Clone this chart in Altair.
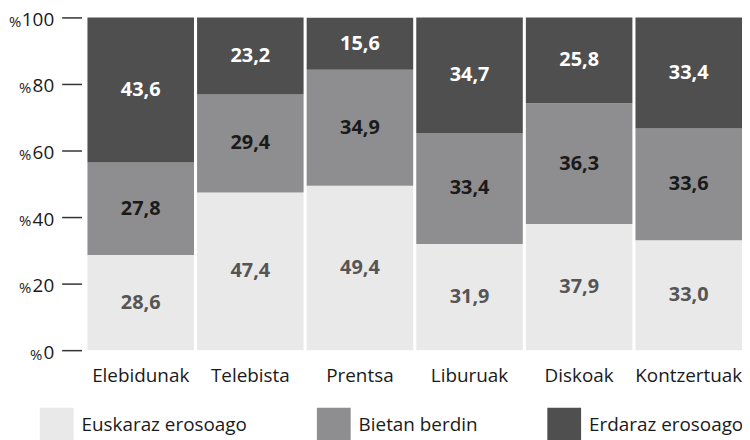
import altair as alt
import pandas as pd

categories = ["Elebidunak", "Telebista", "Prentsa", "Liburuak", "Diskoak", "Kontzertuak"]
series = ["Euskaraz erosoago", "Bietan berdin", "Erdaraz erosoago"]
euskaraz = [28.6, 47.4, 49.4, 31.9, 37.9, 33.0]
bietan = [27.8, 29.4, 34.9, 33.4, 36.3, 33.6]
erdaraz = [43.6, 23.2, 15.6, 34.7, 25.8, 33.4]
y_ticks = [0, 20, 40, 60, 80, 100]
colors = ["#e9e9e9", "#8e8d8f", "#4f4f4f"]
text_colors = ["#555555", "#1a1a1a", "#ffffff"]

rows = []
for i, c in enumerate(categories):
    for j, (s, vals) in enumerate(zip(series, [euskaraz, bietan, erdaraz])):
        rows.append({"cat": c, "series": s, "v": vals[i], "ord": j, "tc": text_colors[j]})
df = pd.DataFrame(rows)

FONT = "Open Sans"
NUM_PAD = 8 + 20  # padding + tick size

base = alt.Chart(df).encode(
    x=alt.X("cat:N", sort=categories, title=None,
            scale=alt.Scale(paddingInner=0.028, paddingOuter=0.0),
            axis=alt.Axis(labelAngle=0, domain=False, ticks=False, labelFontSize=19,
                          labelPadding=17, labelColor="#1a1a1a", labelFont=FONT)),
)

bars = base.mark_bar().encode(
    y=alt.Y("v:Q", stack="zero", title=None,
            scale=alt.Scale(domain=[0, 100]),
            axis=alt.Axis(values=y_ticks, grid=False, domain=False,
                          tickSize=20, tickWidth=1.5, tickColor="#333333", offset=6,
                          labelFontSize=19, labelColor="#1a1a1a", labelPadding=8,
                          labelOffset=2, labelFont=FONT)),
    color=alt.Color("series:N", sort=series,
                    scale=alt.Scale(domain=series, range=colors),
                    legend=alt.Legend(title=None, orient="none", legendX=-48, legendY=393,
                                      direction="horizontal", padding=0,
                                      symbolType="square", symbolSize=1156, symbolStrokeWidth=0,
                                      labelFontSize=19, labelFont=FONT, labelColor="#1a1a1a",
                                      columnPadding=70, labelOffset=8, labelLimit=300)),
    order=alt.Order("ord:Q"),
)

labels = base.transform_calculate(
    lab="replace(format(datum.v, '.1f'), '.', ',')"
).mark_text(fontSize=20, fontWeight="bold", font=FONT).encode(
    y=alt.Y("v:Q", stack="zero", bandPosition=0.5, title=None,
            axis=alt.Axis(orient="left", values=y_ticks, grid=False, domain=False,
                          ticks=False, tickSize=0, offset=6, labelExpr="'%'",
                          labelFontSize=15, labelColor="#1a1a1a", labelFont=FONT,
                          labelOffset=4,
                          labelPadding={"condition": [
                              {"test": "datum.value >= 100", "value": NUM_PAD + 33},
                              {"test": "datum.value >= 10", "value": NUM_PAD + 23}],
                              "value": NUM_PAD + 12})),
    text="lab:N",
    color=alt.Color("tc:N", scale=None),
    order=alt.Order("ord:Q"),
)

chart = alt.layer(bars, labels).resolve_axis(y="independent").properties(
    width=659, height=335,
    autosize=alt.AutoSizeParams(type="none"),
    padding={"left": 80, "top": 8, "right": 0, "bottom": 92},
).configure_view(stroke=None)
chart.save("out.html", embed_options={"renderer": "svg", "actions": False})
